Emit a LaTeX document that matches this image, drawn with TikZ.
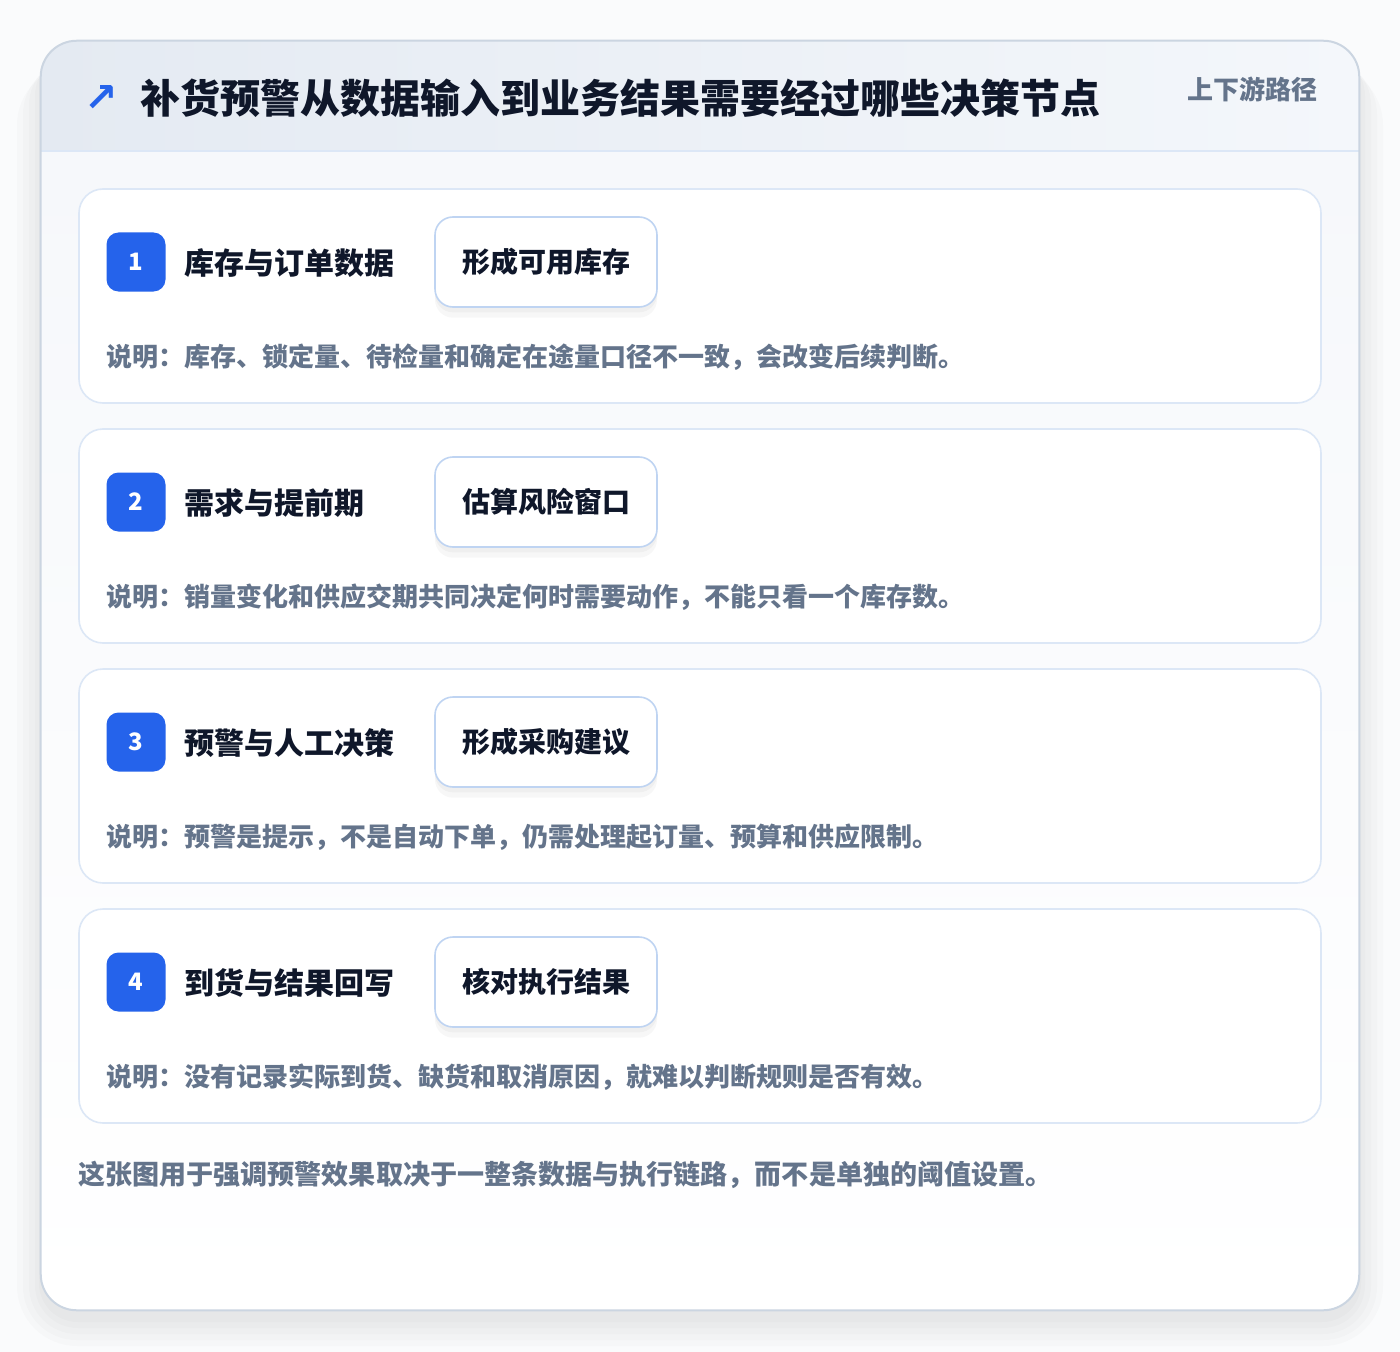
\documentclass[tikz,border=0pt]{standalone}
\usepackage{fontspec}
\setmainfont{Noto Sans CJK SC}
\newfontfamily\symfont{DejaVu Sans}

\definecolor{accent}{HTML}{2563EB}
\definecolor{ink}{HTML}{0F172A}
\definecolor{slate}{HTML}{64748B}
\definecolor{frameline}{HTML}{CBD5E1}
\definecolor{stepline}{HTML}{DCE7F6}
\definecolor{pillline}{HTML}{BFD4F2}
\definecolor{headleft}{HTML}{E4EAF2}
\definecolor{headright}{HTML}{F4F7FB}
\definecolor{bodytop}{HTML}{F6F8FB}
\definecolor{pagebg}{HTML}{FAFBFC}

\tikzset{
  framebox/.style={rectangle,rounded corners=27pt,fill=white,
    minimum width=988.5pt,minimum height=951.75pt},
  haze/.style={fill=black,opacity=0.014},
  stepcard/.style={rectangle,draw=stepline,line width=1.2pt,fill=white,rounded corners=18pt,
    minimum width=931.5pt,minimum height=160.5pt},
  badge/.style={rectangle,fill=accent,rounded corners=9pt,minimum size=44.25pt,inner sep=0pt,
    text=white,font=\fontsize{18}{20}\selectfont\bfseries},
  steptitle/.style={anchor=west,inner sep=0pt,text=ink,font=\fontsize{22.5}{26}\selectfont\bfseries},
  pill/.style={rectangle,draw=pillline,line width=1.2pt,fill=white,rounded corners=13.5pt,
    minimum width=166.5pt,minimum height=67.5pt,text=ink,font=\fontsize{21}{24}\selectfont\bfseries,
    preaction={fill=black,opacity=0.03,transform canvas={yshift=-8pt}},
    preaction={fill=black,opacity=0.03,transform canvas={yshift=-4pt}}},
  note/.style={anchor=west,inner sep=0pt,text=slate,font=\fontsize{19.5}{23}\selectfont\bfseries}
}

\begin{document}
\begin{tikzpicture}[x=0.75pt,y=-0.75pt]
  \fill[pagebg] (0,0) rectangle (1400,1352);
  \useasboundingbox (0,0) rectangle (1400,1352);

  % soft shadow under the card
  \fill[haze,rounded corners=45pt] (17,65) rectangle (1383,1346);
  \fill[haze,rounded corners=40pt] (23,61) rectangle (1377,1340);
  \fill[haze,rounded corners=36pt] (29,57) rectangle (1371,1334);
  \fill[haze,rounded corners=32pt] (35,53) rectangle (1365,1328);
  \fill[haze,rounded corners=29pt] (39,49) rectangle (1361,1322);

  % outer card
  \node[framebox] (frame) at (700,675.5) {};
  \begin{scope}
    \clip[rounded corners=27pt] (frame.north west) rectangle (frame.south east);
    \fill[left color=headleft,right color=headright] (41,41) rectangle (1359,151);
    \fill[top color=bodytop,bottom color=white] (41,151) rectangle (1359,1310);
  \end{scope}
  \coordinate (hl) at (41,151);
  \coordinate (hr) at (1359,151);
  \draw[stepline,line width=1.2pt] (hl) -- (hr);
  \draw[frameline,line width=1.5pt,rounded corners=27pt] (frame.north west) rectangle (frame.south east);

  % header
  \node[text=accent,font=\symfont\fontsize{30}{32}\selectfont\bfseries] (arrow) at (101,99) {↗};
  \node[anchor=west,inner sep=0pt,text=ink,font=\fontsize{30}{34}\selectfont\bfseries] (title) at (140,98)
    {补货预警从数据输入到业务结果需要经过哪些决策节点};
  \node[anchor=east,inner sep=0pt,text=slate,font=\fontsize{19.5}{22}\selectfont\bfseries] (tag) at (1318,89)
    {上下游路径};

  % step 1
  \node[stepcard] (c1) at (700,296) {};
  \node[badge] (b1) at (136,262) {1};
  \node[steptitle] (t1) at (184,263) {库存与订单数据};
  \node[pill] (p1) at (546,262) {形成可用库存};
  \node[note] (n1) at (106,357) {说明：库存、锁定量、待检量和确定在途量口径不一致，会改变后续判断。};

  % step 2
  \node[stepcard] (c2) at (700,536) {};
  \node[badge] (b2) at (136,502) {2};
  \node[steptitle] (t2) at (184,503) {需求与提前期};
  \node[pill] (p2) at (546,502) {估算风险窗口};
  \node[note] (n2) at (106,597) {说明：销量变化和供应交期共同决定何时需要动作，不能只看一个库存数。};

  % step 3
  \node[stepcard] (c3) at (700,776) {};
  \node[badge] (b3) at (136,742) {3};
  \node[steptitle] (t3) at (184,743) {预警与人工决策};
  \node[pill] (p3) at (546,742) {形成采购建议};
  \node[note] (n3) at (106,837) {说明：预警是提示，不是自动下单，仍需处理起订量、预算和供应限制。};

  % step 4
  \node[stepcard] (c4) at (700,1016) {};
  \node[badge] (b4) at (136,982) {4};
  \node[steptitle] (t4) at (184,983) {到货与结果回写};
  \node[pill] (p4) at (546,982) {核对执行结果};
  \node[note] (n4) at (106,1077) {说明：没有记录实际到货、缺货和取消原因，就难以判断规则是否有效。};

  % footer
  \node[anchor=west,inner sep=0pt,text=slate,font=\fontsize{20.3}{23}\selectfont\bfseries] (foot) at (78,1175)
    {这张图用于强调预警效果取决于一整条数据与执行链路，而不是单独的阈值设置。};

\end{tikzpicture}
\end{document}
